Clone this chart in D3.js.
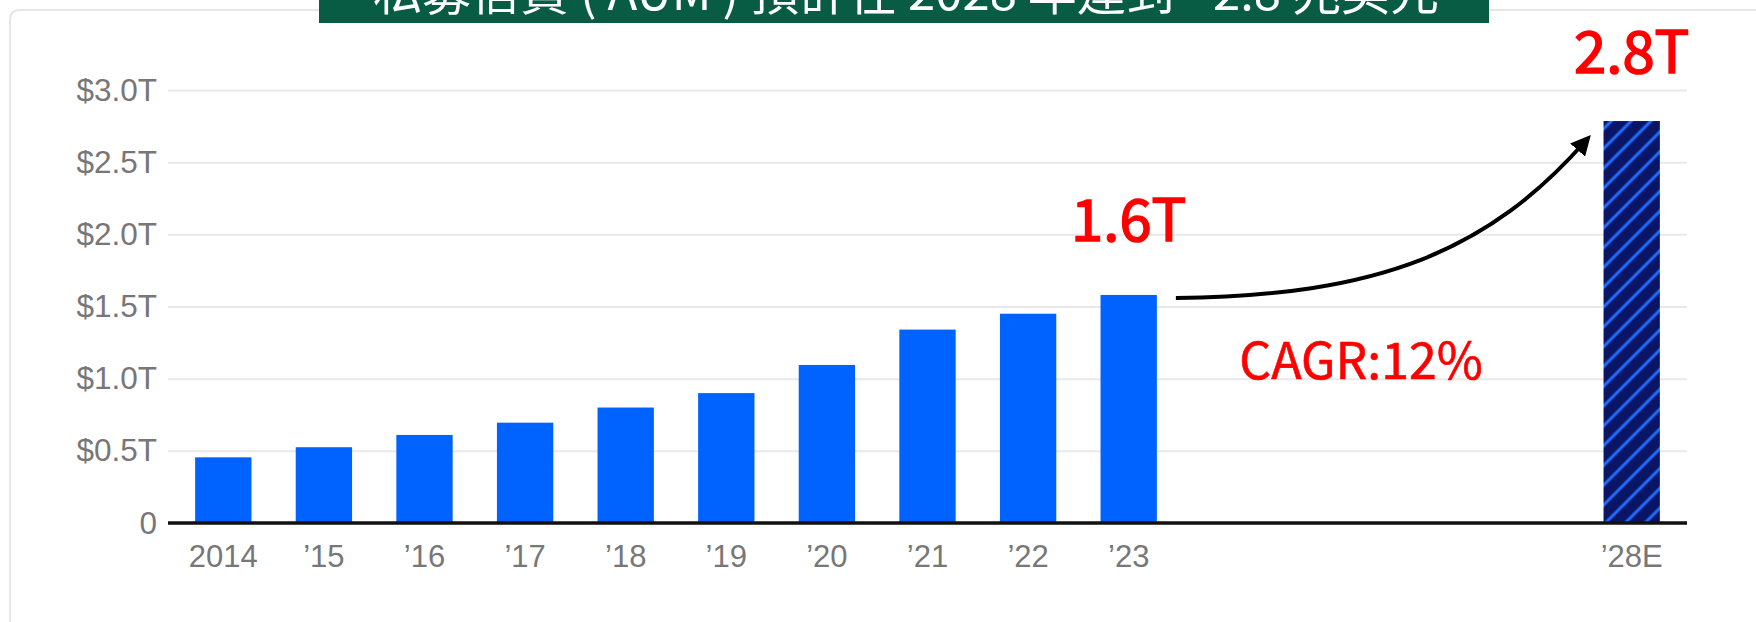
<!DOCTYPE html>
<html>
<head>
<meta charset="utf-8">
<script src="https://cdn.jsdelivr.net/npm/d3@7"></script>
<style>
  body { margin: 0; background: #fff; }
  svg { display: block; }
</style>
</head>
<body>
<script>
// data (AUM, trillions of USD)
var years = [2014, 2015, 2016, 2017, 2018, 2019, 2020, 2021, 2022, 2023, 2028];
var yearLabels = ["2014", "\u201915", "\u201916", "\u201917", "\u201918", "\u201919", "\u201920", "\u201921", "\u201922", "\u201923", "\u201928E"];
var aum = [0.455, 0.525, 0.61, 0.695, 0.80, 0.90, 1.095, 1.34, 1.45, 1.58, 2.785];
var yTicks = [0, 0.5, 1.0, 1.5, 2.0, 2.5, 3.0];
var yTickLabels = ["0", "$0.5T", "$1.0T", "$1.5T", "$2.0T", "$2.5T", "$3.0T"];
var title = "私募信貸 ( AUM ) 預計在 2028 年達到 ~2.8 兆美元";
var callouts = [{ year: 2023, text: "1.6T" }, { year: 2028, text: "2.8T" }];
var cagrText = "CAGR:12%";

var width = 1756, height = 622;

var svg = d3.select("body").append("svg")
  .attr("width", width)
  .attr("height", height);

// card outline, only top + left edge visible
svg.append("path")
  .attr("d", "M10,622 V20 Q10,10 20,10 H1756")
  .attr("fill", "none")
  .attr("stroke", "#e6e6e6")
  .attr("stroke-width", 2);

// scales: one band per year so the 2024-27 gap stays empty
var allYears = d3.range(2014, 2029);
var x = d3.scaleBand()
  .domain(allYears)
  .range([173, 1682])
  .paddingInner(0.44)
  .paddingOuter(0.22);

var y = d3.scaleLinear()
  .domain([0, 3])
  .range([523, 90]);

var left = 168, right = 1687;

// hatch pattern for the forecast bar
var defs = svg.append("defs");
var pat = defs.append("pattern")
  .attr("id", "hatch")
  .attr("patternUnits", "userSpaceOnUse")
  .attr("width", 14)
  .attr("height", 14)
  .attr("patternTransform", "rotate(45)");
pat.append("rect").attr("width", 14).attr("height", 14).attr("fill", "#0b1566");
pat.append("line")
  .attr("x1", 7).attr("y1", 0).attr("x2", 7).attr("y2", 14)
  .attr("stroke", "#1f6dff")
  .attr("stroke-width", 3);

// y axis + grid
var yAxis = d3.axisLeft(y)
  .tickValues(yTicks)
  .tickFormat(function(d, i) { return yTickLabels[i]; })
  .tickSize(-(right - left))
  .tickPadding(11);

var gy = svg.append("g")
  .attr("transform", "translate(" + left + ",0)")
  .call(yAxis);
gy.select(".domain").remove();
gy.selectAll(".tick line")
  .attr("stroke", "#e9e9e9")
  .attr("stroke-width", 2);
gy.selectAll(".tick text")
  .attr("fill", "#777")
  .style("font-family", "'Liberation Sans', Arial, sans-serif")
  .style("font-size", "31.5px");

// bars
svg.selectAll("rect.bar")
  .data(years)
  .enter().append("rect")
  .attr("class", "bar")
  .attr("x", function(d) { return x(d); })
  .attr("width", x.bandwidth())
  .attr("y", function(d, i) { return y(aum[i]); })
  .attr("height", function(d, i) { return y(0) - y(aum[i]); })
  .attr("fill", function(d) { return d === 2028 ? "url(#hatch)" : "#0062ff"; });

// x axis
var xAxis = d3.axisBottom(x)
  .tickValues(years)
  .tickFormat(function(d) { return yearLabels[years.indexOf(d)]; })
  .tickSize(0)
  .tickPadding(22);

var gx = svg.append("g")
  .attr("transform", "translate(0," + y(0) + ")")
  .call(xAxis);
gx.select(".domain").remove();
gx.selectAll(".tick text")
  .attr("fill", "#777")
  .style("font-family", "'Liberation Sans', Arial, sans-serif")
  .style("font-size", "31px");

svg.append("line")
  .attr("x1", left).attr("x2", right)
  .attr("y1", y(0)).attr("y2", y(0))
  .attr("stroke", "#111")
  .attr("stroke-width", 3.5);

// value callouts
svg.selectAll("text.callout")
  .data(callouts)
  .enter().append("text")
  .attr("class", "callout")
  .attr("x", function(d) { return x(d.year) + x.bandwidth() / 2; })
  .attr("y", function(d) { return y(aum[years.indexOf(d.year)]) - (d.year === 2028 ? 48 : 54); })
  .attr("text-anchor", "middle")
  .attr("fill", "#ff0000")
  .attr("stroke", "#ff0000")
  .attr("stroke-width", 1.6)
  .style("font-family", "'Noto Sans CJK TC', 'Noto Sans', sans-serif")
  .style("font-size", "58px")
  .text(function(d) { return d.text; });

// growth arrow from '23 to '28E
var x0 = x(2023) + x.bandwidth() + 19, y0 = y(aum[9]) + 3;
var x1 = x(2028) - 18, y1 = y(aum[10]) + 20;
defs.append("marker")
  .attr("id", "head")
  .attr("viewBox", "0 0 10 10")
  .attr("refX", 6).attr("refY", 5)
  .attr("markerWidth", 5).attr("markerHeight", 5)
  .attr("orient", "auto")
  .append("path")
  .attr("d", "M0,0 L10,5 L0,10 Z")
  .attr("fill", "#000");

svg.append("path")
  .attr("d", "M" + x0 + "," + y0 +
    " C" + (x0 + 205) + "," + (y0 - 2) + " " + (x1 - 96) + "," + (y0 - 48) + " " + x1 + "," + y1)
  .attr("fill", "none")
  .attr("stroke", "#000")
  .attr("stroke-width", 4)
  .attr("marker-end", "url(#head)");

svg.append("text")
  .attr("x", 1361)
  .attr("y", 379)
  .attr("text-anchor", "middle")
  .attr("fill", "#ff0000")
  .attr("stroke", "#ff0000")
  .attr("stroke-width", 0.6)
  .style("font-family", "'Noto Sans CJK TC', 'Noto Sans', sans-serif")
  .style("font-size", "50px")
  .text(cagrText);

// title banner, cut off at the top edge
svg.append("rect")
  .attr("x", 319).attr("y", 0)
  .attr("width", 1170).attr("height", 23)
  .attr("fill", "#075c43");
svg.append("text")
  .attr("x", 906)
  .attr("y", 10)
  .attr("text-anchor", "middle")
  .attr("fill", "#fff")
  .style("font-family", "'Noto Sans CJK TC', sans-serif")
  .style("font-size", "49px")
  .text(title);
</script>
</body>
</html>
